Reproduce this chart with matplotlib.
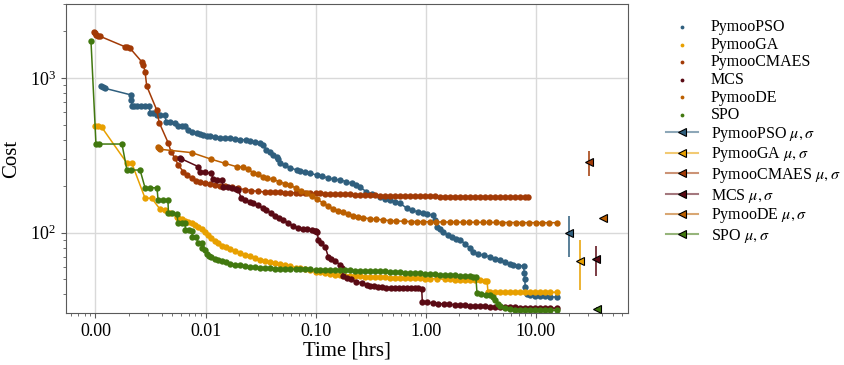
import matplotlib
matplotlib.use("Agg")
import matplotlib.pyplot as plt
from matplotlib.lines import Line2D
from matplotlib.colors import to_rgba
from matplotlib.ticker import FormatStrFormatter, NullFormatter

plt.rcParams['font.family'] = ['Liberation Serif', 'DejaVu Serif']
plt.rcParams['mathtext.fontset'] = 'stix'

# ---- data (time in hrs, cost) ----
names = ['PymooPSO', 'PymooGA', 'PymooCMAES', 'MCS', 'PymooDE', 'SPO']
colors = ['#2f5f7e', '#e8a000', '#a23a06', '#5a0a14', '#bb5f00', '#41780f']

t_pso = [0.00112, 0.00117, 0.00122, 0.00210, 0.00212, 0.00215, 0.00223, 0.00238, 0.00259, 0.00282,
         0.00308, 0.00313, 0.00332, 0.00360, 0.00385, 0.00428, 0.00437, 0.00475, 0.00527, 0.00565,
         0.00610, 0.00650, 0.00696, 0.00752, 0.00828, 0.00889, 0.00952, 0.0102, 0.0110, 0.0122,
         0.0135, 0.0149, 0.0167, 0.0185, 0.0205, 0.0235, 0.0253, 0.0281, 0.0312, 0.0333,
         0.0357, 0.0385, 0.0410, 0.0441, 0.0455, 0.0474, 0.0526, 0.0584, 0.0670, 0.0720,
         0.0800, 0.0888, 0.102, 0.114, 0.130, 0.147, 0.166, 0.190, 0.213, 0.234,
         0.253, 0.288, 0.324, 0.384, 0.426, 0.473, 0.525, 0.583, 0.671, 0.75,
         0.85, 0.94, 1.03, 1.16, 1.21, 1.26, 1.35, 1.44, 1.59, 1.74,
         1.88, 2.05, 2.27, 2.52, 2.70, 2.96, 3.35, 3.83, 4.25, 4.72,
         5.24, 5.82, 6.24, 6.9, 7.72, 7.85, 7.93, 8.0, 8.30, 8.83,
         9.78, 10.9, 12.1, 13.4, 15.4]
c_pso = [887, 870, 857, 777, 720, 660, 655, 654, 654, 654,
         654, 597, 590, 576, 576, 576, 522, 520, 515, 489,
         489, 489, 461, 450, 439, 432, 428, 424, 421, 416,
         412, 409, 407, 404, 400, 397, 392, 385, 380, 370,
         343, 330, 318, 310, 300, 281, 272, 263, 254, 251,
         246, 242, 236, 231, 226, 221, 219, 214, 208, 203,
         197, 184, 177, 171, 166, 163, 158, 155, 144, 140,
         136, 133, 131.5, 130, 120, 109, 105, 101.5, 97, 94,
         91.5, 89.7, 85, 79, 75.4, 73, 71.3, 70, 68, 66.6,
         64.5, 62.5, 61.8, 61.3, 60.9, 54.7, 50, 44.8, 40.0, 39.5,
         39.2, 39.0, 38.8, 38.5, 38.3]

t_ga = [0.00099, 0.00105, 0.00114, 0.00192, 0.00213, 0.00282, 0.00324, 0.00385, 0.00428, 0.00475,
        0.00546, 0.00566, 0.00610, 0.00650, 0.00692, 0.00749, 0.00801, 0.00859, 0.00930, 0.00988,
        0.0105, 0.0113, 0.0122, 0.0130, 0.0141, 0.0153, 0.0167, 0.0185, 0.0205, 0.0228,
        0.0253, 0.0281, 0.0312, 0.0347, 0.0385, 0.0427, 0.0474, 0.0526, 0.0584, 0.0662,
        0.0720, 0.0800, 0.0888, 0.101, 0.109, 0.122, 0.135, 0.150, 0.166, 0.185,
        0.205, 0.228, 0.253, 0.281, 0.311, 0.346, 0.384, 0.426, 0.473, 0.525,
        0.583, 0.647, 0.718, 0.798, 0.886, 0.984, 1.09, 1.26, 1.49, 1.66,
        1.84, 2.05, 2.27, 2.52, 2.80, 3.10, 3.45, 3.60, 3.67, 3.83,
        4.25, 4.72, 5.24, 5.82, 6.46, 7.17, 7.95, 8.83, 9.78, 10.9,
        12.1, 13.4, 15.4]
c_ga = [489, 487, 480, 283, 283, 167, 167, 142, 141, 134,
        127, 124, 122, 119.6, 117, 115, 112, 109.3, 105, 101.5,
        97, 92, 88.5, 85.4, 82.5, 80.5, 78.5, 76, 74, 72,
        70.5, 69, 67, 65.8, 64.6, 63.5, 62.6, 61.6, 60.6, 59.5,
        58.7, 57.8, 57.0, 56.0, 55.4, 54.7, 54.0, 53.5, 53.1, 52.8,
        52.5, 52.3, 52.1, 51.9, 51.7, 51.6, 51.4, 51.3, 51.2, 51.1,
        51.0, 50.9, 50.8, 50.7, 50.6, 50.5, 50.4, 50.2, 50.0, 49.8,
        49.7, 49.5, 49.4, 49.3, 49.2, 49.1, 49.0, 48.9, 41.6, 41.5,
        41.5, 41.4, 41.4, 41.4, 41.3, 41.3, 41.3, 41.2, 41.2, 41.2,
        41.2, 41.2, 41.2]

t_cmaes = [0.000975, 0.00100, 0.00102, 0.00106, 0.00110, 0.00185, 0.00193, 0.00206, 0.00263, 0.00272,
           0.00282, 0.00292, 0.00360, 0.00379, 0.00458, 0.00485, 0.00527, 0.00565, 0.00627, 0.00680,
           0.00749, 0.00820, 0.00889, 0.00988, 0.0110, 0.0122, 0.0135, 0.0149, 0.0172, 0.0197,
           0.0228, 0.0260, 0.0298, 0.0347, 0.0385, 0.0427, 0.0474, 0.0526, 0.0584, 0.0662,
           0.0720, 0.0800, 0.0888, 0.101, 0.109, 0.122, 0.135, 0.150, 0.166, 0.185,
           0.205, 0.228, 0.253, 0.281, 0.311, 0.346, 0.384, 0.426, 0.473, 0.525,
           0.583, 0.647, 0.718, 0.798, 0.886, 0.984, 1.09, 1.21, 1.35, 1.49,
           1.66, 1.84, 2.05, 2.27, 2.52, 2.80, 3.10, 3.45, 3.83, 4.25,
           4.72, 5.24, 5.82, 6.46, 7.17, 7.95, 8.53]
c_cmaes = [1991, 1950, 1900, 1873, 1860, 1592, 1580, 1556, 1273, 1212,
           1099, 887, 621, 515, 380, 334, 302, 274, 248, 236,
           224, 217, 212, 209, 206, 203, 201, 199, 197, 193,
           190, 187, 185, 183, 182.5, 182, 181.8, 181.5, 181.2, 181,
           180.7, 180.4, 180.1, 179.8, 179.5, 179, 178.5, 178, 177.5, 177,
           176.5, 176, 175.5, 175, 174.5, 174, 173.6, 173.2, 172.9, 172.6,
           172.3, 172.1, 171.9, 171.7, 171.6, 171.5, 171.4, 171.3, 171.2, 171.1,
           171.1, 171.0, 171.0, 170.9, 170.9, 170.8, 170.8, 170.7, 170.7, 170.7,
           170.6, 170.6, 170.6, 170.5, 170.5, 170.5, 170.5]

t_mcs = [0.00585, 0.00604, 0.00859, 0.00889, 0.00988, 0.0113, 0.0117, 0.0127, 0.0140, 0.0145,
         0.0159, 0.0172, 0.0188, 0.0199, 0.0210, 0.0228, 0.0253, 0.0271, 0.0298, 0.0333,
         0.0357, 0.0395, 0.0427, 0.0464, 0.0503, 0.0557, 0.0620, 0.0690, 0.0760, 0.0830,
         0.0930, 0.0980, 0.1000, 0.1034, 0.1056, 0.112, 0.122, 0.130, 0.137, 0.150,
         0.166, 0.1745, 0.178, 0.191, 0.208, 0.234, 0.263, 0.290, 0.311, 0.340,
         0.368, 0.40, 0.435, 0.48, 0.525, 0.57, 0.62, 0.67, 0.73, 0.79,
         0.85, 0.918, 0.93, 1.03, 1.16, 1.30, 1.45, 1.62, 1.84, 2.05,
         2.27, 2.52, 2.80, 3.10, 3.45, 3.83, 4.25, 4.72, 5.24, 5.82,
         6.46, 7.17, 7.95, 8.83, 9.78, 10.9, 12.1, 13.4, 15.4]
c_mcs = [302, 300, 267, 248, 245, 242, 221, 220, 219, 198,
         196, 194, 191, 189, 167, 163, 157, 155, 150, 144,
         140, 134, 129, 125, 121, 116, 111, 107, 106, 105,
         103.5, 102.5, 102, 101.5, 89.7, 86, 81.2, 70, 68, 66,
         62, 59, 52.5, 51, 50, 48.3, 47, 46, 45.2, 44.9,
         44.6, 44.4, 44.2, 44.1, 44.0, 43.9, 43.8, 43.75, 43.7, 43.65,
         43.6, 43.5, 35.8, 35.4, 35.1, 34.8, 34.6, 34.4, 34.2, 34.0,
         33.9, 33.7, 33.6, 33.5, 33.4, 33.3, 33.2, 33.1, 33.0, 32.9,
         32.9, 32.8, 32.8, 32.7, 32.7, 32.6, 32.6, 32.6, 32.5]

t_de = [0.00372, 0.00377, 0.00385, 0.00749, 0.0113, 0.0149, 0.0191, 0.0219, 0.0242, 0.0271,
        0.0298, 0.0333, 0.0365, 0.0412, 0.0464, 0.0526, 0.0584, 0.0662, 0.0736, 0.0831,
        0.0926, 0.103, 0.117, 0.130, 0.144, 0.158, 0.177, 0.196, 0.218, 0.241,
        0.270, 0.311, 0.352, 0.41, 0.473, 0.54, 0.63, 0.73, 0.83, 0.95,
        1.09, 1.25, 1.43, 1.65, 1.88, 2.17, 2.49, 2.86, 3.28, 3.77,
        4.33, 4.97, 5.71, 6.56, 7.53, 8.65, 9.93, 11.4, 13.1, 15.4]
c_de = [359, 355, 346, 329, 298, 281, 267, 265, 258, 244,
        238, 230, 226, 221, 214, 207, 203, 194, 186, 180,
        172, 165, 155, 149, 143, 139, 136, 132, 129, 127,
        125, 123, 122, 121, 119.5, 119, 118.5, 118, 117.8, 117.7,
        117.5, 117.4, 117.2, 117.1, 117.0, 116.9, 116.8, 116.7, 116.6, 116.5,
        116.4, 116.3, 116.3, 116.2, 116.1, 116.1, 116.0, 116.0, 116.0, 116.0]

t_spo = [0.00091, 0.00101, 0.00108, 0.00174, 0.00193, 0.00210, 0.00254, 0.00282, 0.00313, 0.00362,
         0.00370, 0.00410, 0.00455, 0.00460, 0.00495, 0.00550, 0.00561, 0.00610, 0.00650, 0.00657,
         0.00705, 0.00752, 0.00760, 0.00816, 0.00858, 0.00920, 0.00930, 0.00988, 0.0102, 0.0107,
         0.0113, 0.0122, 0.0130, 0.0141, 0.0153, 0.0167, 0.0185, 0.0205, 0.0228, 0.0253,
         0.0281, 0.0312, 0.0347, 0.0385, 0.0427, 0.0474, 0.0526, 0.0584, 0.0662, 0.0720,
         0.0800, 0.0888, 0.101, 0.109, 0.122, 0.135, 0.150, 0.166, 0.185, 0.205,
         0.228, 0.253, 0.281, 0.311, 0.346, 0.384, 0.426, 0.473, 0.525, 0.583,
         0.647, 0.718, 0.798, 0.886, 0.984, 1.09, 1.21, 1.35, 1.49, 1.66,
         1.84, 2.05, 2.27, 2.52, 2.70, 2.85, 2.92, 3.20, 3.50, 3.83,
         4.07, 4.25, 4.50, 4.72, 5.24, 5.82, 6.46, 7.17, 7.95, 8.83,
         9.78, 10.9, 12.1, 13.4, 15.4]
c_spo = [1742, 374, 374, 374, 254, 254, 254, 195, 195, 195,
         163, 163, 163, 133, 133, 132, 116, 116, 115, 104,
         104, 103, 94.2, 94, 86.2, 86, 79.3, 77.3, 72.9, 71,
         69.3, 67.8, 66.6, 65.5, 64.3, 63.0, 62.0, 61.4, 60.9, 60.3,
         59.8, 59.5, 59.1, 58.8, 58.6, 58.4, 58.3, 58.2, 58.1, 58.0,
         57.9, 57.8, 57.7, 57.6, 57.5, 57.4, 57.3, 57.2, 57.1, 57.0,
         56.9, 56.8, 56.7, 56.6, 56.5, 56.3, 56.1, 55.8, 55.6, 55.4,
         55.2, 55.0, 54.8, 54.6, 54.4, 54.2, 53.9, 53.6, 53.3, 53.1,
         52.9, 52.6, 52.4, 52.2, 52.0, 51.8, 40.6, 40.0, 39.8, 39.6,
         38.5, 36.7, 34.8, 33.4, 32.5, 32.0, 31.8, 31.7, 31.6, 31.6,
         31.6, 31.6, 31.5, 31.5, 31.5]

# mean / std of final cost per optimiser (same order as names)
mean_time = [20.1, 25.2, 30.4, 35.2, 40.4, 35.7]
mean_cost = [99, 65.8, 286, 67.2, 124, 32.2]
std_cost = [29.5, 23.5, 52, 14.4, 3, 0.8]

times = [t_pso, t_ga, t_cmaes, t_mcs, t_de, t_spo]
costs = [c_pso, c_ga, c_cmaes, c_mcs, c_de, c_spo]

fig = plt.figure(figsize=(8.44, 3.65), dpi=100)
ax = fig.add_axes([0.0778, 0.1416, 0.6659, 0.8474])

dot_handles = []
for t, c, name, col in zip(times, costs, names, colors):
    ax.plot(t, c, color=col, lw=1.1, zorder=2)
    h = ax.scatter(t, c, s=21, color=col, linewidths=0, label=name, zorder=2)
    dot_handles.append(h)

# legend uses markerscale=0.6, so proxy triangles are drawn larger to compensate
err_handles = []
for i, col in enumerate(colors):
    ax.errorbar(mean_time[i], mean_cost[i], yerr=std_cost[i], fmt='<', color=col,
                mfc=col, mec='k', mew=0.8, ms=6, ecolor=to_rgba(col, 0.8),
                elinewidth=1.4, capsize=0, zorder=4)
    err_handles.append(Line2D([0], [0], color=to_rgba(col, 0.55), lw=1.5, marker='<',
                              mfc=col, mec='k', mew=0.8, ms=9.5))

ax.set_xscale('log')
ax.set_yscale('log')
ax.set_xlim(0.000536, 68.2)
ax.set_ylim(30.1, 3006)
ax.xaxis.set_major_formatter(FormatStrFormatter('%.2f'))
ax.xaxis.set_minor_formatter(NullFormatter())

ax.grid(True, which='major', color='#d9d9d9', lw=1.0)
ax.set_axisbelow(True)
for sp in ax.spines.values():
    sp.set_color('#5a5a5a')
ax.tick_params(which='both', colors='#5a5a5a', labelcolor='black', labelsize=13)

ax.set_xlabel('Time [hrs]', fontsize=15, labelpad=1)
ax.set_ylabel('Cost', fontsize=15, labelpad=6)

labels = names + [n + r' $\mu, \sigma$' for n in names]
fig.legend(dot_handles + err_handles, labels, loc='upper left',
           bbox_to_anchor=(0.7815, 0.965), frameon=False, fontsize=11.5,
           labelspacing=0.1, handlelength=2.0, borderaxespad=0, markerscale=0.6)

fig.savefig('out.png', dpi=100)
